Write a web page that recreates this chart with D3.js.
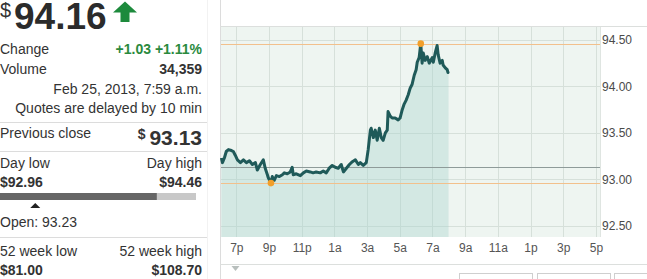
<!DOCTYPE html>
<html>
<head>
<meta charset="utf-8">
<script src="https://cdn.jsdelivr.net/npm/d3@7"></script>
<style>
  body { margin: 0; background: #fff; }
  svg { display: block; font-family: "Liberation Sans", Arial, sans-serif; }
</style>
</head>
<body>
<svg id="chart" width="647" height="279"></svg>
<script>
// intraday trades, Feb 24 6pm -> Feb 25 7:59am
const times = ["18:05","18:09","18:16","18:23","18:31","18:42","18:49","18:56","19:04","19:15",
  "19:26","19:37","19:48","19:59","20:10","20:17","20:28","20:39","20:46","20:54",
  "20:57","21:07","21:12","21:19","21:27","21:38","21:49","21:56","22:07","22:18",
  "22:25","22:29","22:40","22:55","23:06","23:17","23:31","23:42","23:53","00:08",
  "00:19","00:30","00:41","00:52","01:03","01:14","01:25","01:33","01:44","01:55",
  "02:06","02:17","02:28","02:35","02:46","02:57","03:04","03:12","03:15","03:23",
  "03:30","03:37","03:45","03:52","03:59","04:07","04:14","04:17","04:25","04:32",
  "04:43","04:54","05:01","05:09","05:16","05:23","05:31","05:38","05:45","05:53",
  "06:00","06:04","06:11","06:17","06:22","06:26","06:33","06:41","06:48","06:59",
  "07:03","07:10","07:17","07:21","07:28","07:36","07:39","07:47","07:54","07:57","07:59"];
const prices = [93.23,93.18,93.23,93.30,93.32,93.31,93.30,93.26,93.21,93.18,
  93.21,93.18,93.20,93.16,93.18,93.10,93.16,93.21,93.12,93.05,
  93.02,92.96,93.03,92.99,93.04,93.03,93.05,93.07,93.06,93.08,
  93.13,93.05,93.06,93.04,93.07,93.09,93.08,93.07,93.08,93.07,
  93.09,93.07,93.12,93.15,93.13,93.12,93.16,93.08,93.12,93.16,
  93.19,93.21,93.16,93.18,93.15,93.18,93.32,93.53,93.55,93.45,
  93.53,93.42,93.55,93.45,93.42,93.50,93.53,93.73,93.68,93.66,
  93.66,93.64,93.66,93.75,93.81,93.85,93.91,93.98,94.02,94.12,
  94.18,94.26,94.31,94.46,94.25,94.36,94.28,94.32,94.25,94.31,
  94.26,94.36,94.44,94.34,94.25,94.28,94.23,94.20,94.18,94.15,94.16];

const xTickLabels = ["7p","9p","11p","1a","3a","5a","7a","9a","11a","1p","3p","5p"];
const yTicks = [92.5, 93.0, 93.5, 94.0, 94.5];

const last = 94.16, prevClose = 93.13, open = 93.23;
const dayLow = 92.96, dayHigh = 94.46;
const statRows = [
  ["Change", "+1.03 +1.11%"],
  ["Volume", "34,359"]
];

const svg = d3.select("#chart");

const parseT = s => {
  const [h, m] = s.split(":").map(Number);
  return new Date(2013, 1, h >= 18 ? 24 : 25, h, m);
};
const data = times.map((t, i) => ({ t: parseT(t), p: prices[i] }));

const x = d3.scaleTime()
  .domain([new Date(2013, 1, 24, 18, 0), new Date(2013, 1, 25, 17, 15)])
  .range([220, 600]);
const y = d3.scaleLinear().domain([92.38, 94.65]).range([237, 26]);

// frame
svg.append("line").attr("x1", 220.5).attr("x2", 220.5).attr("y1", 0).attr("y2", 279)
  .attr("stroke", "#dcdcdc");
svg.append("rect").attr("x", 221).attr("y", 27).attr("width", 379).attr("height", 210)
  .attr("fill", "#eef5f1");
svg.append("line").attr("x1", 220).attr("x2", 647).attr("y1", 26.5).attr("y2", 26.5)
  .attr("stroke", "#dcdfdd");
svg.append("line").attr("x1", 220).attr("x2", 647).attr("y1", 264.5).attr("y2", 264.5)
  .attr("stroke", "#dcdfdd");
svg.append("line").attr("x1", 600.5).attr("x2", 600.5).attr("y1", 27).attr("y2", 237)
  .attr("stroke", "#dfe5e1");

// grid
const xTicks = xTickLabels.map((d, i) => d3.timeHour.offset(new Date(2013, 1, 24, 19), i * 2));
svg.append("g").selectAll("line").data(xTicks).join("line")
  .attr("x1", d => Math.round(x(d)) + 0.5).attr("x2", d => Math.round(x(d)) + 0.5)
  .attr("y1", 27).attr("y2", 237).attr("stroke", "#d6e0da");
svg.append("g").selectAll("line").data(yTicks).join("line")
  .attr("x1", 221).attr("x2", 600).attr("y1", d => Math.round(y(d)) + 0.5).attr("y2", d => Math.round(y(d)) + 0.5)
  .attr("stroke", "#d6e0da");

// area + line
svg.append("path").datum(data)
  .attr("d", d3.area().x(d => x(d.t)).y0(237).y1(d => y(d.p)))
  .attr("fill", "#a9d3cd").attr("fill-opacity", 0.38);

// reference lines
[[dayHigh, "#f2c08c"], [dayLow, "#f2c08c"], [prevClose, "#8e9b99"]].forEach(([v, c]) => {
  svg.append("line").attr("x1", 221).attr("x2", 600)
    .attr("y1", Math.round(y(v)) + 0.5).attr("y2", Math.round(y(v)) + 0.5)
    .attr("stroke", c);
});

svg.append("path").datum(data)
  .attr("d", d3.line().x(d => x(d.t)).y(d => y(d.p)))
  .attr("fill", "none").attr("stroke", "#1f5a59").attr("stroke-width", 3)
  .attr("stroke-linejoin", "round");

// high / low markers
const hi = data.find(d => d.p === dayHigh), lo = data.find(d => d.p === dayLow);
svg.append("g").selectAll("circle").data([hi, lo]).join("circle")
  .attr("cx", d => x(d.t)).attr("cy", d => y(d.p)).attr("r", 3.3)
  .attr("fill", "#f29f2a");

// axes
const xAxis = svg.append("g").attr("transform", "translate(0,237)")
  .call(d3.axisBottom(x).tickValues(xTicks).tickSize(0).tickPadding(6)
    .tickFormat((d, i) => xTickLabels[i]));
xAxis.select(".domain").remove();
xAxis.selectAll("text").attr("font-size", 12).attr("fill", "#555")
  .attr("font-family", "Liberation Sans, Arial, sans-serif");

const yAxis = svg.append("g").attr("transform", "translate(600,0)")
  .call(d3.axisRight(y).tickValues(yTicks).tickSize(0).tickPadding(2).tickFormat(d3.format(".2f")));
yAxis.select(".domain").remove();
yAxis.selectAll("text").attr("font-size", 12).attr("fill", "#4a4a4a")
  .attr("font-family", "Liberation Sans, Arial, sans-serif");

svg.append("path").attr("d", "M231.5,266 L239.5,266 L235.5,271 Z").attr("fill", "#b8bfbd");
[[459.5, 73], [537.5, 73], [614.5, 40]].forEach(([bx, bw]) => {
  svg.append("rect").attr("x", bx).attr("y", 273.5).attr("width", bw).attr("height", 10)
    .attr("fill", "#fff").attr("stroke", "#cfcfcf");
});

// quote panel
const panel = svg.append("g").attr("fill", "#333");
const txt = (s, px, py, opt = {}) => panel.append("text").attr("x", px).attr("y", py)
  .attr("font-size", opt.size || 14).attr("font-weight", opt.bold ? "bold" : null)
  .attr("text-anchor", opt.end ? "end" : "start").attr("fill", opt.fill || "#333").text(s);

txt("$", 0, 17, { size: 20 });
txt(last.toFixed(2), 14, 29, { size: 37, bold: true, fill: "#2b2b2b" });
panel.append("path").attr("d", "M113,12.5 L125,1.5 L137,12.5 L129.5,12.5 L129.5,22 L120.5,22 L120.5,12.5 Z")
  .attr("fill", "#1d8a3c");

statRows.forEach(([k, v], i) => {
  txt(k, 0, 54 + i * 20);
  txt(v, 202, 54 + i * 20, { bold: true, end: true, fill: i === 0 ? "#2a8a3e" : "#333" });
});
txt("Feb 25, 2013, 7:59 a.m.", 202, 94, { end: true });
txt("Quotes are delayed by 10 min", 202, 113, { end: true });

[122, 151, 237].forEach(ly => {
  panel.append("line").attr("x1", 0).attr("x2", 207).attr("y1", ly + 0.5).attr("y2", ly + 0.5)
    .attr("stroke", "#dcdcdc");
});
panel.append("line").attr("x1", 207.5).attr("x2", 207.5).attr("y1", 0).attr("y2", 279)
  .attr("stroke", "#f2f2f2");

txt("Previous close", 0, 138);
const pc = txt("", 202, 145, { size: 21, bold: true, end: true });
pc.append("tspan").attr("font-size", 14).attr("dy", -6).text("$ ");
pc.append("tspan").attr("dy", 6).text(prevClose.toFixed(2));

txt("Day low", 0, 168);
txt("Day high", 202, 168, { end: true });
txt("$" + dayLow.toFixed(2), 0, 187, { bold: true });
txt("$" + dayHigh.toFixed(2), 202, 187, { bold: true, end: true });

const r = d3.scaleLinear().domain([dayLow, dayHigh]).range([0, 196]);
panel.append("rect").attr("x", 0).attr("y", 193).attr("width", 196).attr("height", 7).attr("fill", "#c8c8c8");
panel.append("rect").attr("x", 0).attr("y", 193).attr("width", r(last)).attr("height", 7).attr("fill", "#666");
panel.append("path").attr("d", `M${r(open) - 5},208 L${r(open) + 5},208 L${r(open)},203 Z`).attr("fill", "#222");
txt("Open: " + open.toFixed(2), 0, 227);

txt("52 week low", 0, 256);
txt("52 week high", 202, 256, { end: true });
txt("$81.00", 0, 275, { bold: true });
txt("$108.70", 202, 275, { bold: true, end: true });
</script>
</body>
</html>
